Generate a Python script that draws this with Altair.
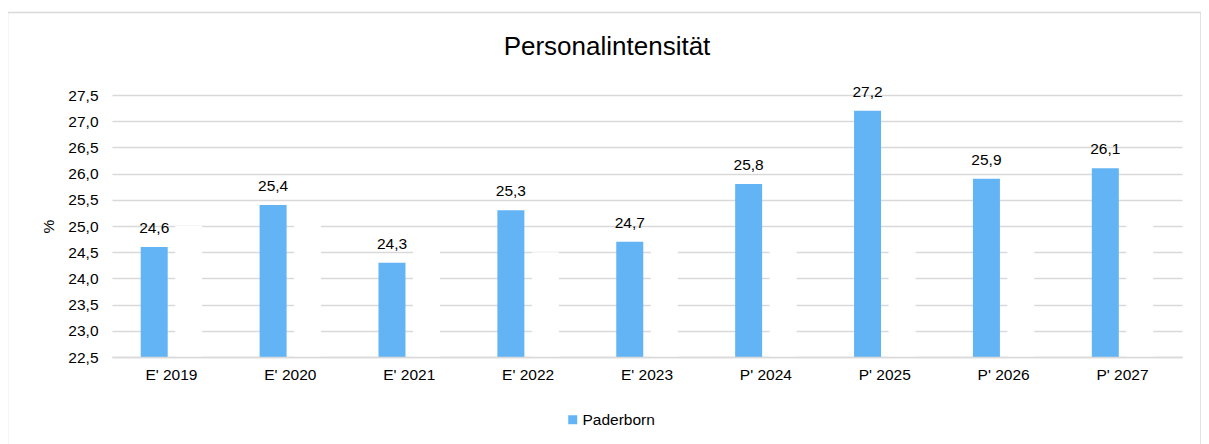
import altair as alt
import pandas as pd

categories = ["E' 2019", "E' 2020", "E' 2021", "E' 2022", "E' 2023",
              "P' 2024", "P' 2025", "P' 2026", "P' 2027"]
paderborn = [24.6, 25.4, 24.3, 25.3, 24.7, 25.8, 27.2, 25.9, 26.1]
# second (white, unlabelled) series, visible only as gaps in the gridlines
hidden = [25.0, 25.2, 24.6, 24.5, 24.8, 24.8, 24.8, 24.8, 25.2]
series_names = ["Paderborn", "Hidden"]
series_colors = ["#63B4F5", "#FFFFFF"]
y_ticks = [22.5, 23.0, 23.5, 24.0, 24.5, 25.0, 25.5, 26.0, 26.5, 27.0, 27.5]

rows = []
for c, a, b in zip(categories, paderborn, hidden):
    rows.append({"cat": c, "series": series_names[0], "v": a})
    rows.append({"cat": c, "series": series_names[1], "v": b})
df = pd.DataFrame(rows)

FONT = "Liberation Sans"
FS = 15.5
W, H = 1070, 262
P_IN = 0.483

x_enc = alt.X("cat:N", sort=categories,
              scale=alt.Scale(paddingInner=P_IN, paddingOuter=P_IN / 2),
              axis=alt.Axis(title=None, labelAngle=0, ticks=False, domain=True,
                            domainColor="#D9D9D9", domainWidth=1.3, zindex=1,
                            labelPadding=10, labelFontSize=FS, labelColor="#000000",
                            labelFont=FONT, grid=False))
xo_enc = alt.XOffset("series:N", sort=series_names,
                     scale=alt.Scale(domain=series_names, paddingInner=0.217, paddingOuter=0))
y_enc = alt.Y("v:Q",
              scale=alt.Scale(domain=[y_ticks[0], y_ticks[-1]], zero=False, nice=False),
              axis=alt.Axis(values=y_ticks,
                            labelExpr="replace(format(datum.value, '.1f'), '.', ',')",
                            title="%", titleFontSize=FS, titleFont=FONT,
                            titleFontWeight="normal", titleColor="#000000",
                            titlePadding=11, domain=False, ticks=False,
                            labelPadding=14, labelFontSize=FS, labelFont=FONT,
                            labelColor="#000000", gridColor="#D9D9D9", gridWidth=1.3))

base = alt.Chart(df)

bars = base.mark_bar(strokeWidth=0).encode(
    x=x_enc, xOffset=xo_enc, y=y_enc,
    y2=alt.Y2(datum=y_ticks[0]),
    color=alt.Color("series:N",
                    scale=alt.Scale(domain=series_names, range=series_colors),
                    legend=alt.Legend(values=["Paderborn"], title=None, orient="none",
                                      legendX=453, legendY=317, symbolType="square",
                                      symbolSize=81, symbolStrokeWidth=0,
                                      labelFontSize=FS, labelFont=FONT,
                                      labelColor="#000000", labelOffset=2)),
)

labels = base.transform_filter(
    alt.datum.series == "Paderborn"
).transform_calculate(
    lab="replace(format(datum.v, '.1f'), '.', ',')"
).mark_text(baseline="alphabetic", dy=-14, fontSize=FS, font=FONT, color="#000000").encode(
    x=x_enc, xOffset=xo_enc, y=y_enc, text="lab:N"
)

frame = alt.Chart(pd.DataFrame({"a": [0]})).mark_rect(
    fill="transparent", stroke="#D9D9D9", strokeWidth=1.5
).encode(
    x=alt.value(-104.5), x2=alt.value(1089), y=alt.value(-82.5), y2=alt.value(360)
)

chart = alt.layer(frame, bars, labels).properties(
    width=W, height=H,
    padding={"left": 104, "top": 87, "right": 19, "bottom": 87},
    autosize=alt.AutoSizeParams(type="none"),
    title=alt.TitleParams("Personalintensität", fontSize=26, font=FONT,
                          fontWeight="normal", color="#000000", dx=-40,
                          offset=36, dy=84),
).configure_view(strokeWidth=0)

chart.save("out.html", embed_options={"renderer": "svg", "actions": False})
